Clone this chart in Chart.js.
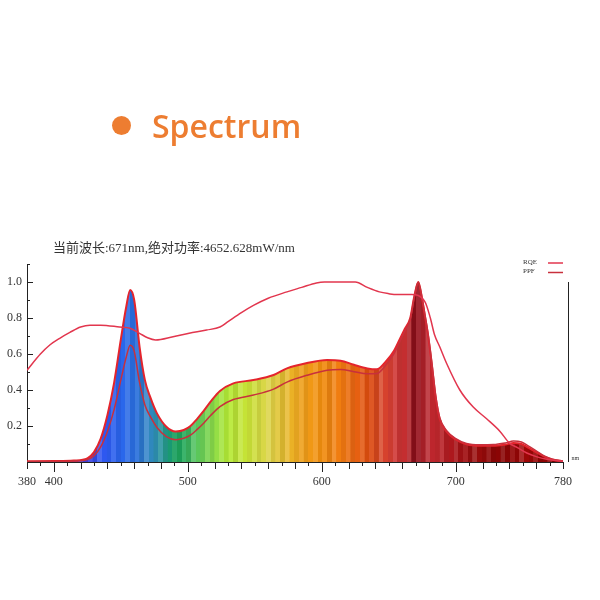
<!DOCTYPE html>
<html>
<head>
<meta charset="utf-8">
<title>Spectrum</title>
<script src="https://cdn.jsdelivr.net/npm/chart.js"></script>
<style>
  html, body { margin: 0; padding: 0; background: #fff; }
  #wrap { position: relative; width: 600px; height: 600px; }
  #dot { position: absolute; left: 112px; top: 116px; width: 19px; height: 19px; border-radius: 50%; background: #ED7D31; }
  #heading { position: absolute; left: 152px; top: 110px; font-family: 'Open Sans', sans-serif; font-weight: 600; font-size: 32px; line-height: 32px; color: #ED7D31; white-space: nowrap; }
  #caption { position: absolute; left: 53px; top: 240px; font: 13px/15px 'Liberation Serif', 'Noto Sans CJK SC', serif; color: #333; white-space: nowrap; }
  canvas { position: absolute; left: 0; top: 0; }
</style>
</head>
<body>
<div id="wrap">
  <canvas id="chart" width="600" height="600"></canvas>
  <div id="dot"></div>
  <div id="heading">Spectrum</div>
  <div id="caption">当前波长:671nm,绝对功率:4652.628mW/nm</div>
</div>
<script>
// spectrum (relative power) and PPF
const WAVELENGTHS = [380, 400, 415, 425, 430, 435, 440, 445, 450, 454, 457, 460, 464, 468, 472, 477, 484, 491, 497, 502,
  507, 512, 517, 524, 534, 549, 564, 574, 589, 604, 614, 624, 634, 641, 648, 654, 658, 662, 666, 669,
  672, 675, 677, 679, 682, 685, 688, 693, 700, 708, 718, 728, 737, 743, 749, 754, 760, 766, 772, 780];
const SPECTRUM = [0.004, 0.005, 0.008, 0.02, 0.055, 0.13, 0.26, 0.44, 0.68, 0.86, 0.955, 0.9, 0.64, 0.455, 0.36, 0.27, 0.196, 0.17, 0.178, 0.2,
  0.24, 0.285, 0.335, 0.395, 0.437, 0.455, 0.483, 0.52, 0.55, 0.567, 0.563, 0.54, 0.52, 0.515, 0.56, 0.62, 0.68, 0.74, 0.8, 0.92,
  1.0, 0.9, 0.81, 0.72, 0.55, 0.36, 0.24, 0.17, 0.125, 0.098, 0.09, 0.09, 0.097, 0.105, 0.1, 0.08, 0.055, 0.03, 0.014, 0.004];
const PPF = [0.002, 0.003, 0.005, 0.013, 0.035, 0.084, 0.17, 0.291, 0.455, 0.581, 0.649, 0.616, 0.442, 0.317, 0.253, 0.192, 0.141, 0.124, 0.132, 0.149,
  0.181, 0.217, 0.258, 0.308, 0.347, 0.372, 0.405, 0.444, 0.482, 0.51, 0.514, 0.502, 0.49, 0.491, 0.54, 0.603, 0.666, 0.729, 0.793, 0.916,
  1.0, 0.904, 0.816, 0.727, 0.558, 0.367, 0.246, 0.175, 0.13, 0.103, 0.096, 0.097, 0.106, 0.116, 0.111, 0.09, 0.062, 0.034, 0.016, 0.005];

// RQE curve
const RQE_WL = [380, 390, 397, 405, 412, 420, 427, 435, 449, 457, 464, 470, 476, 489, 501, 514, 524, 530, 540, 549,
  560, 574, 585, 596, 602, 625, 634, 643, 650, 656, 667, 677, 681, 684, 688, 693, 703, 713, 723, 733,
  740, 746, 753, 760, 768, 780];
const RQE = [0.51, 0.6, 0.65, 0.69, 0.72, 0.75, 0.76, 0.76, 0.75, 0.743, 0.715, 0.69, 0.678, 0.696, 0.715, 0.733, 0.75, 0.78, 0.83, 0.87,
  0.91, 0.945, 0.97, 0.995, 1.0, 1.0, 0.97, 0.945, 0.935, 0.93, 0.93, 0.89, 0.8, 0.71, 0.64, 0.55, 0.4, 0.305, 0.24, 0.17,
  0.105, 0.08, 0.05, 0.03, 0.015, 0.003];

const X_LABELS = [380, 400, 500, 600, 700, 780];
const Y_LABELS = [0.2, 0.4, 0.6, 0.8, 1.0];
const LEGEND_NAMES = ['RQE', 'PPF'];

// colour of the fill under the spectrum, by wavelength
const FILL_WL = [380, 420, 435, 450, 462, 472, 482, 490, 498, 508, 520, 530, 545, 560, 572, 585, 598, 612, 625, 636,
  645, 655, 664, 670, 674, 685, 700, 715, 735, 750, 780];
const FILL_COLORS = ['#5a2a9a', '#4a3ad8', '#2f55f0', '#2a66ee', '#2a70dc', '#2f86c0', '#2a9a98', '#0e9a58', '#2eb060', '#5cc85a',
  '#8fdc48', '#b4ea34', '#c8e236', '#dcd44a', '#e6be2e', '#eea01c', '#f2900e', '#f07e10', '#e86412', '#dc4a0e',
  '#d8462a', '#d03836', '#c02a2e', '#7a0814', '#b0202a', '#c0282e', '#a81418', '#980c0c', '#880404', '#a00808', '#800000'];

const STRIPES = [0, 0.12, -0.05, 0.08, -0.08, 0.15, 0, -0.04, 0.1, -0.06];

function hexToRgb(h) {
  const n = parseInt(h.slice(1), 16);
  return [n >> 16, (n >> 8) & 255, n & 255];
}

function colorAt(w) {
  let i = 0;
  while (i < FILL_WL.length - 2 && w > FILL_WL[i + 1]) i++;
  const t = Math.max(0, Math.min(1, (w - FILL_WL[i]) / (FILL_WL[i + 1] - FILL_WL[i])));
  const a = hexToRgb(FILL_COLORS[i]), b = hexToRgb(FILL_COLORS[i + 1]);
  return a.map((v, k) => v + (b[k] - v) * t);
}

function spectrumFill(context) {
  const chart = context.chart;
  if (!chart.chartArea) return null;
  const xs = chart.scales.x;
  const x0 = xs.getPixelForValue(xs.min), x1 = xs.getPixelForValue(xs.max);
  const g = chart.ctx.createLinearGradient(x0, 0, x1, 0);
  const span = xs.max - xs.min;
  const step = 3.5;
  let i = 0;
  for (let w = xs.min; w < xs.max; w += step, i++) {
    const k = STRIPES[i % STRIPES.length];
    const c = colorAt(w + step / 2).map(v => Math.round(k >= 0 ? v + (255 - v) * k : v * (1 + k)));
    const col = `rgb(${c[0]},${c[1]},${c[2]})`;
    g.addColorStop((w - xs.min) / span, col);
    g.addColorStop(Math.min(1, (w + step - xs.min) / span - 0.0005), col);
  }
  return g;
}

const toPoints = (xs, ys) => xs.map((x, i) => ({ x, y: ys[i] }));

const decor = {
  id: 'decor',
  afterDraw(chart) {
    const { ctx, chartArea: a, scales: { x, y } } = chart;
    ctx.save();
    ctx.strokeStyle = '#222';
    ctx.lineWidth = 1;
    ctx.beginPath();
    for (let v = 380; v <= 780; v += 10) {
      const len = v % 100 === 0 ? 10 : (v % 20 === 0 ? 7 : 4);
      const px = Math.round(x.getPixelForValue(v)) + 0.5;
      ctx.moveTo(px, a.bottom);
      ctx.lineTo(px, a.bottom + len);
    }
    for (let k = 1; k <= 11; k++) {
      const py = Math.round(y.getPixelForValue(k / 10)) + 0.5;
      ctx.moveTo(a.left, py);
      ctx.lineTo(a.left + (k % 2 === 0 ? 6 : 3), py);
    }
    // right-hand frame line with its unit
    const rx = Math.round(a.right + 5) + 0.5;
    ctx.moveTo(rx, y.getPixelForValue(1.0));
    ctx.lineTo(rx, a.bottom);
    ctx.stroke();
    ctx.fillStyle = '#333';
    ctx.font = '6px "Liberation Serif"';
    ctx.textBaseline = 'bottom';
    ctx.fillText('nm', rx + 3, a.bottom - 1);

    // legend
    ctx.font = '7px "Liberation Serif"';
    ctx.textBaseline = 'middle';
    LEGEND_NAMES.forEach((name, i) => {
      const ds = chart.data.datasets.find(d => d.label === name);
      const ly = a.top - 2 + i * 9.5;
      ctx.fillStyle = '#333';
      ctx.fillText(name, a.right - 40, ly);
      ctx.strokeStyle = ds.borderColor;
      ctx.lineWidth = 1.5;
      ctx.beginPath();
      ctx.moveTo(a.right - 15, ly + 1);
      ctx.lineTo(a.right, ly + 1);
      ctx.stroke();
    });
    ctx.restore();
  }
};

new Chart(document.getElementById('chart'), {
  type: 'line',
  data: {
    datasets: [
      {
        label: 'Spectrum',
        data: toPoints(WAVELENGTHS, SPECTRUM),
        fill: 'origin',
        backgroundColor: spectrumFill,
        borderColor: '#e4242c',
        borderWidth: 2,
        pointRadius: 0,
        cubicInterpolationMode: 'monotone',
        order: 3
      },
      {
        label: 'PPF',
        data: toPoints(WAVELENGTHS, PPF),
        fill: false,
        borderColor: '#c8303c',
        borderWidth: 1.5,
        pointRadius: 0,
        cubicInterpolationMode: 'monotone',
        order: 2
      },
      {
        label: 'RQE',
        data: toPoints(RQE_WL, RQE),
        fill: false,
        borderColor: '#e2364e',
        borderWidth: 1.5,
        pointRadius: 0,
        cubicInterpolationMode: 'monotone',
        order: 1
      }
    ]
  },
  options: {
    responsive: false,
    animation: false,
    devicePixelRatio: 1,
    layout: { padding: { top: 264, right: 37, bottom: 98, left: 0 } },
    plugins: {
      legend: { display: false },
      title: { display: false },
      tooltip: { enabled: false }
    },
    scales: {
      x: {
        type: 'linear',
        min: 380,
        max: 780,
        afterBuildTicks: s => { s.ticks = X_LABELS.map(v => ({ value: v })); },
        afterFit: s => { s.height = 40; },
        grid: { display: false, drawTicks: false },
        border: { display: true, color: '#222', width: 1 },
        ticks: {
          autoSkip: false,
          maxRotation: 0,
          padding: 13,
          color: '#333',
          font: { family: 'Liberation Serif', size: 12 },
          callback: v => String(v)
        }
      },
      y: {
        min: 0,
        max: 1.1,
        afterBuildTicks: s => { s.ticks = Y_LABELS.map(v => ({ value: v })); },
        afterFit: s => { s.width = 27; },
        grid: { display: false, drawTicks: false },
        border: { display: true, color: '#222', width: 1 },
        ticks: {
          padding: 5,
          color: '#333',
          font: { family: 'Liberation Serif', size: 12 },
          callback: v => v.toFixed(1)
        }
      }
    }
  },
  plugins: [decor]
});
</script>
</body>
</html>
